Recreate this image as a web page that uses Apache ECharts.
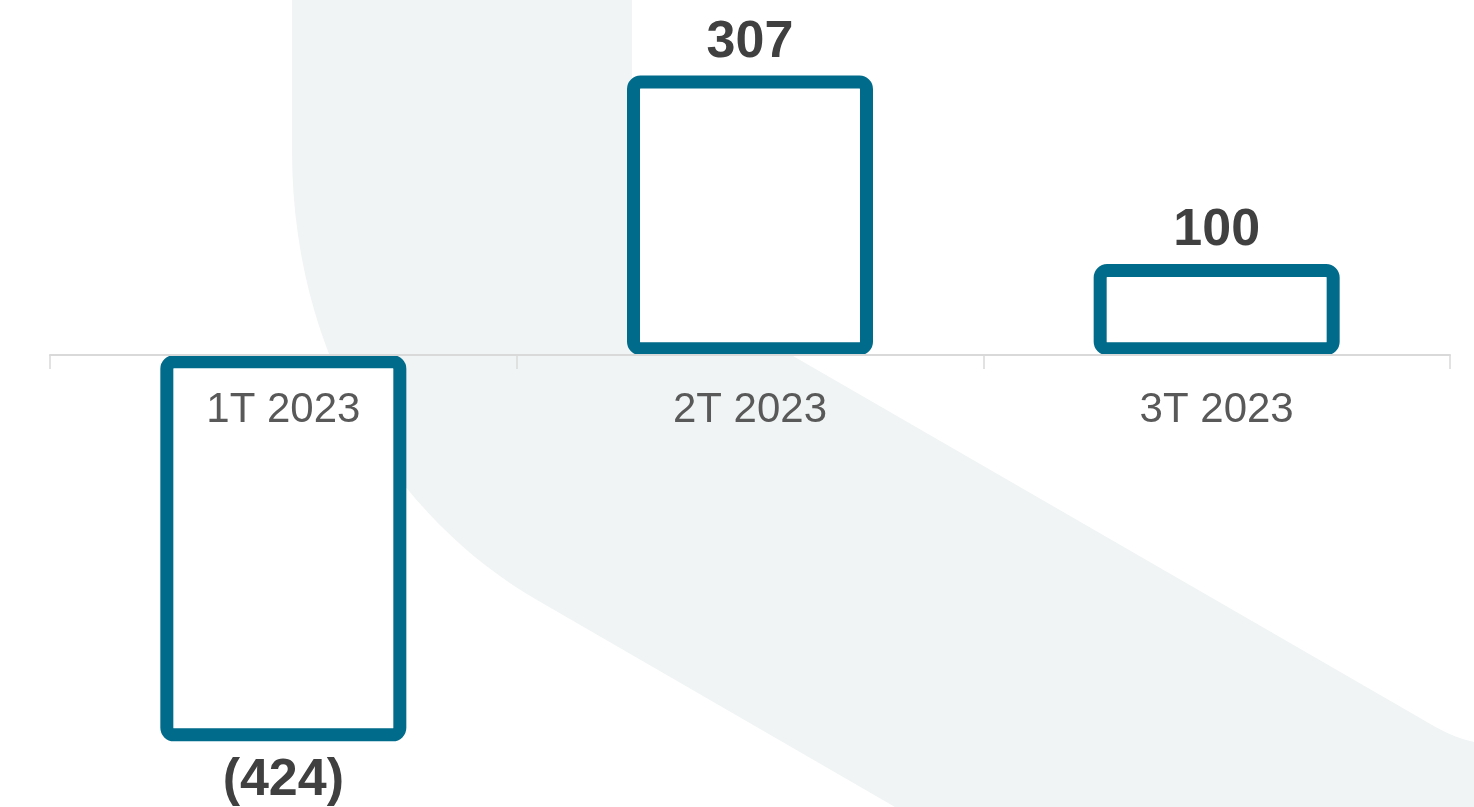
<!DOCTYPE html>
<html>
<head>
<meta charset="utf-8">
<script src="https://cdn.jsdelivr.net/npm/echarts@6/dist/echarts.min.js"></script>
<style>
  html, body { margin: 0; padding: 0; background: #fff; }
  #chart { width: 1474px; height: 807px; }
</style>
</head>
<body>
<div id="chart"></div>
<script>
// quarters and result values
const quarters = ['1T 2023', '2T 2023', '3T 2023']
const values = [-424, 307, 100]

const font = 'Arial, "Liberation Sans", sans-serif'
const teal = '#006b8a'

// sample a cubic bezier into points (for the background band outline)
const bez = (p0, p1, p2, p3, n) => {
  const pts = []
  for (let i = 0; i <= n; i++) {
    const t = i / n, u = 1 - t
    pts.push([
      u * u * u * p0[0] + 3 * u * u * t * p1[0] + 3 * u * t * t * p2[0] + t * t * t * p3[0],
      u * u * u * p0[1] + 3 * u * u * t * p1[1] + 3 * u * t * t * p2[1] + t * t * t * p3[1]
    ])
  }
  return pts
}

const bandPoints = [[292, 0], [632, 0], [632, 263], [1420, 718]]
  .concat(bez([1420, 718], [1440, 730], [1455, 738], [1474, 742], 8))
  .concat([[1474, 807], [895, 807]])
  .concat(bez([537, 600], [407, 525], [292, 370], [292, 150], 30))

const chart = echarts.init(document.getElementById('chart'))

// negative bars get a little more room for the label below
const barData = values.map(v => v < 0 ? { value: v, label: { distance: 13 } } : v)

const option = {
  backgroundColor: '#fff',
  animation: false,
  // light decorative band behind the chart
  graphic: [
    {
      type: 'polygon',
      z: -10,
      silent: true,
      shape: { points: bandPoints },
      style: { fill: '#f0f4f5' }
    }
  ],
  grid: {
    left: 50,
    right: 24,
    top: 0,
    bottom: 1,
    outerBoundsMode: 'none',
    containLabel: false
  },
  xAxis: {
    type: 'category',
    data: quarters,
    position: 'bottom',
    offset: -451,
    z: 5,
    axisLine: { onZero: false, lineStyle: { color: '#d9d9d9', width: 2 } },
    axisTick: { show: true, length: 14, lineStyle: { color: '#d9d9d9', width: 1.5 } },
    axisLabel: {
      color: '#595959',
      fontSize: 42,
      fontFamily: font,
      margin: 34
    }
  },
  yAxis: {
    type: 'value',
    min: -495,
    max: 390,
    show: false,
    splitLine: { show: false }
  },
  series: [
    {
      type: 'bar',
      data: barData,
      barWidth: 246,
      itemStyle: {
        color: '#fff',
        borderColor: teal,
        borderWidth: 13,
        borderRadius: 7
      },
      label: {
        show: true,
        position: 'outside',
        distance: 7,
        color: '#404040',
        fontSize: 52,
        fontWeight: 'bold',
        fontFamily: font,
        formatter: function (p) {
          return p.value < 0 ? '(' + Math.abs(p.value) + ')' : String(p.value)
        }
      }
    }
  ]
}
chart.setOption(option)
</script>
</body>
</html>
